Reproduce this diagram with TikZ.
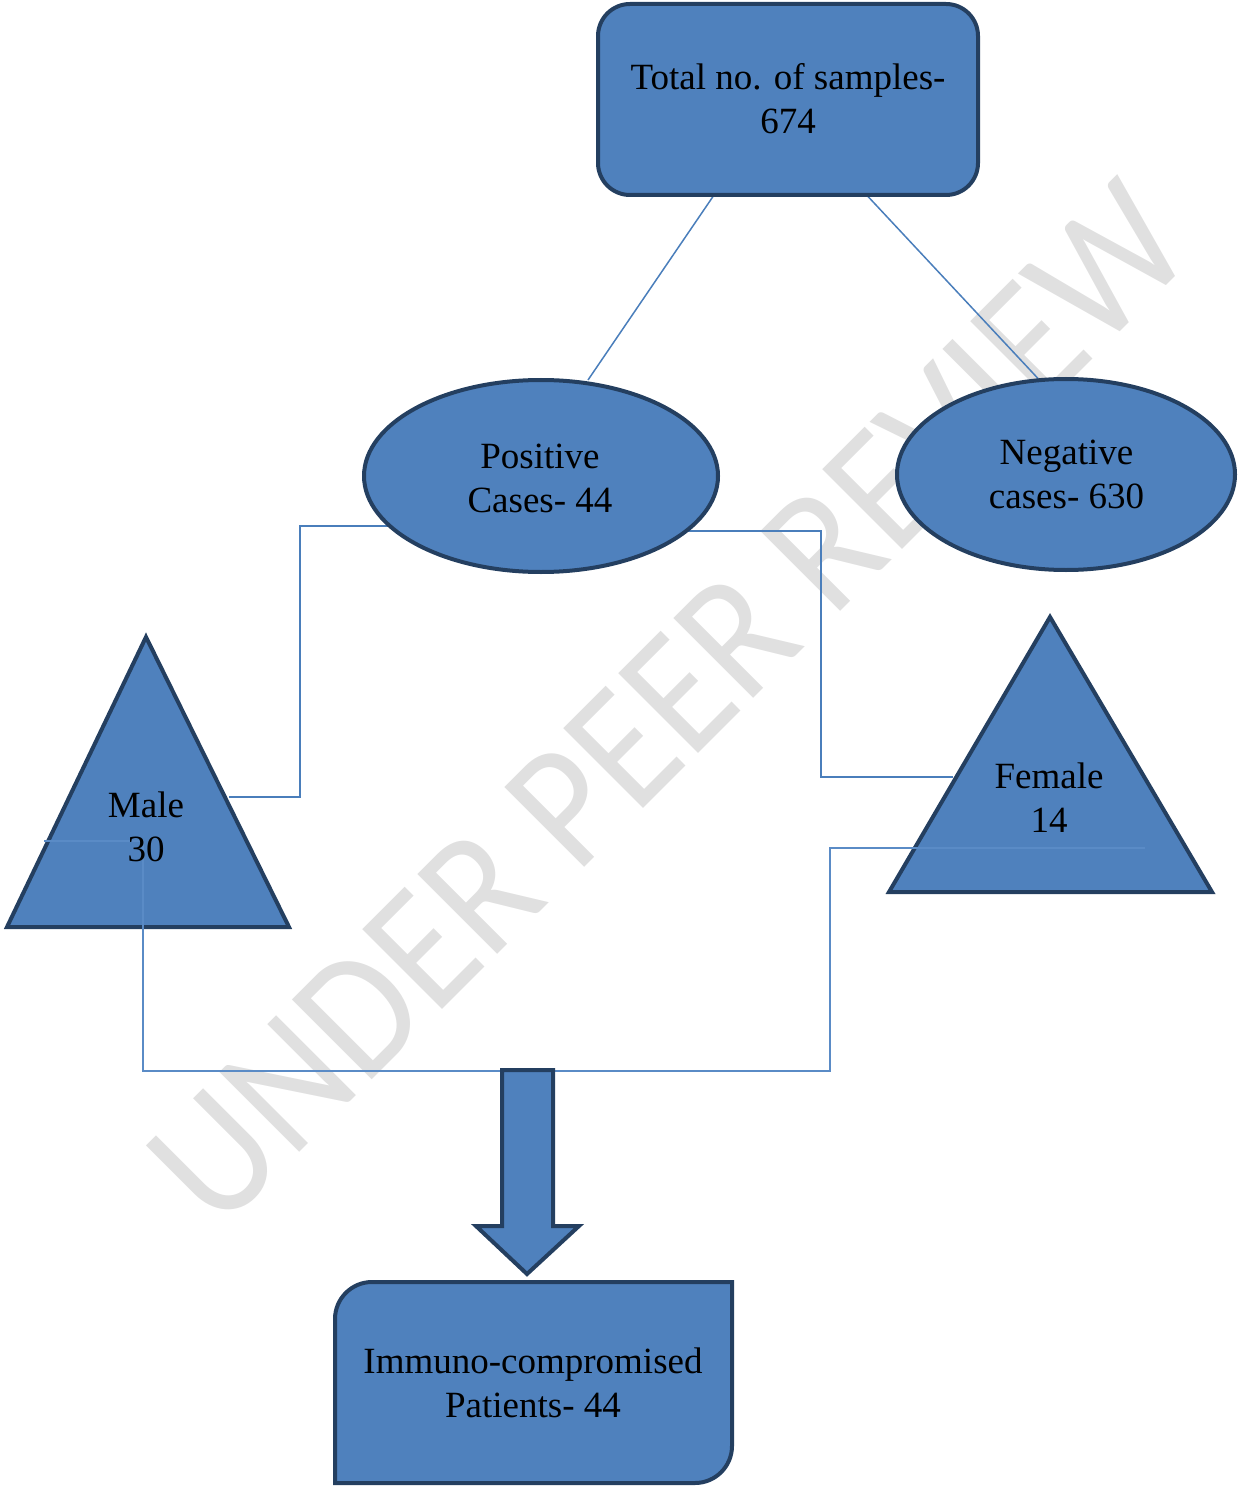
\documentclass[tikz,border=0pt]{standalone}
\usepackage{fontspec}
\setmainfont{Liberation Serif}
\newfontfamily\wmfont{Carlito}
\usetikzlibrary{shapes.geometric}
\definecolor{boxfill}{HTML}{4F81BD}
\definecolor{boxline}{HTML}{243F60}
\definecolor{connc}{HTML}{4A7EBB}
\definecolor{conntop}{HTML}{5A8BC6}
\definecolor{wmgray}{HTML}{E0E0E0}
\pgfdeclarelayer{bg}
\pgfsetlayers{bg,main}
\begin{document}
\begin{tikzpicture}[x=0.5pt,y=-0.5pt,
  shp/.style={fill=boxfill, draw=boxline, line width=2pt},
  conn/.style={draw=connc, line width=0.75pt},
  lbl/.style={font=\fontsize{18.5}{22}\selectfont, align=center, inner sep=0pt, text=black},
]
\useasboundingbox (0,0) rectangle (1238,1486);

% shapes
\node[shp, rectangle, rounded corners=16pt, minimum width=190pt, minimum height=95.5pt, inner sep=0pt] (top) at (788,99.5) {};
\node[shp, ellipse, minimum width=177pt, minimum height=96pt, inner sep=0pt] (pos) at (541,476) {};
\node[shp, ellipse, minimum width=169pt, minimum height=95.5pt, inner sep=0pt] (neg) at (1066,474.5) {};

\draw[shp] (146,637) -- (289,927) -- (7,927) -- cycle;
\coordinate (maleIn) at (229,797);
\coordinate (maleOut) at (44,841);
\draw[shp] (1050,617) -- (1212,892) -- (889,892) -- cycle;
\coordinate (femIn) at (953,777);
\coordinate (femOut) at (1145,848);

% background: watermark and connectors beneath shapes
\begin{pgfonlayer}{bg}
\node[rotate=45, anchor=base west, inner sep=0pt, text=wmgray, font=\wmfont\fontsize{88}{88}\selectfont] (wm) at (218.5,1233.5) {\scalebox{0.91}[1]{UNDER PEER REVIEW}};
\draw[conn] ([shift={(-75,97)}]top.center) -- ([shift={(47,-96)}]pos.center);
\draw[conn] ([shift={(80,97)}]top.center) -- ([shift={(-28,-96)}]neg.center);
\draw[conn] ([shift={(-150,50)}]pos.center) -| (300,797) -- (maleIn);
\draw[conn] ([shift={(140,55)}]pos.center) -| (821,777) -- (femIn);
\end{pgfonlayer}

% connector over the triangles
\draw[conn, draw=conntop] (maleOut) -- (143,841) -- (143,1071) -- (830,1071) -- (830,848) -- (femOut);

% labels
\node[lbl] (topT) at (788,103.2) {\strut Total no. of samples-\\\strut 674};
\node[lbl] (posT) at (540,481.2) {\strut Positive\\\strut Cases- 44};
\node[lbl] (negT) at (1066.5,477.7) {\strut Negative\\\strut cases- 630};
\node[lbl] (maleT) at (146,830.7) {\strut Male\\\strut 30};
\node[lbl] (femT) at (1049,801.2) {\strut Female\\\strut 14};

% block arrow
\draw[shp] (502,1070) coordinate (arrTop) -- (553,1070) -- (553,1226) -- (579,1226) -- (527,1274) coordinate (arrTip) -- (476,1226) -- (502,1226) -- cycle;

% bottom box
\draw[shp] (335,1483) -- (335,1319) arc[start angle=180, end angle=90, radius=18.5pt] -- (732,1282) -- (732,1446) arc[start angle=0, end angle=-90, radius=18.5pt] -- cycle;
\node[lbl] (botT) at (533,1386.2) {\strut Immuno-compromised\\\strut Patients- 44};
\end{tikzpicture}
\end{document}
